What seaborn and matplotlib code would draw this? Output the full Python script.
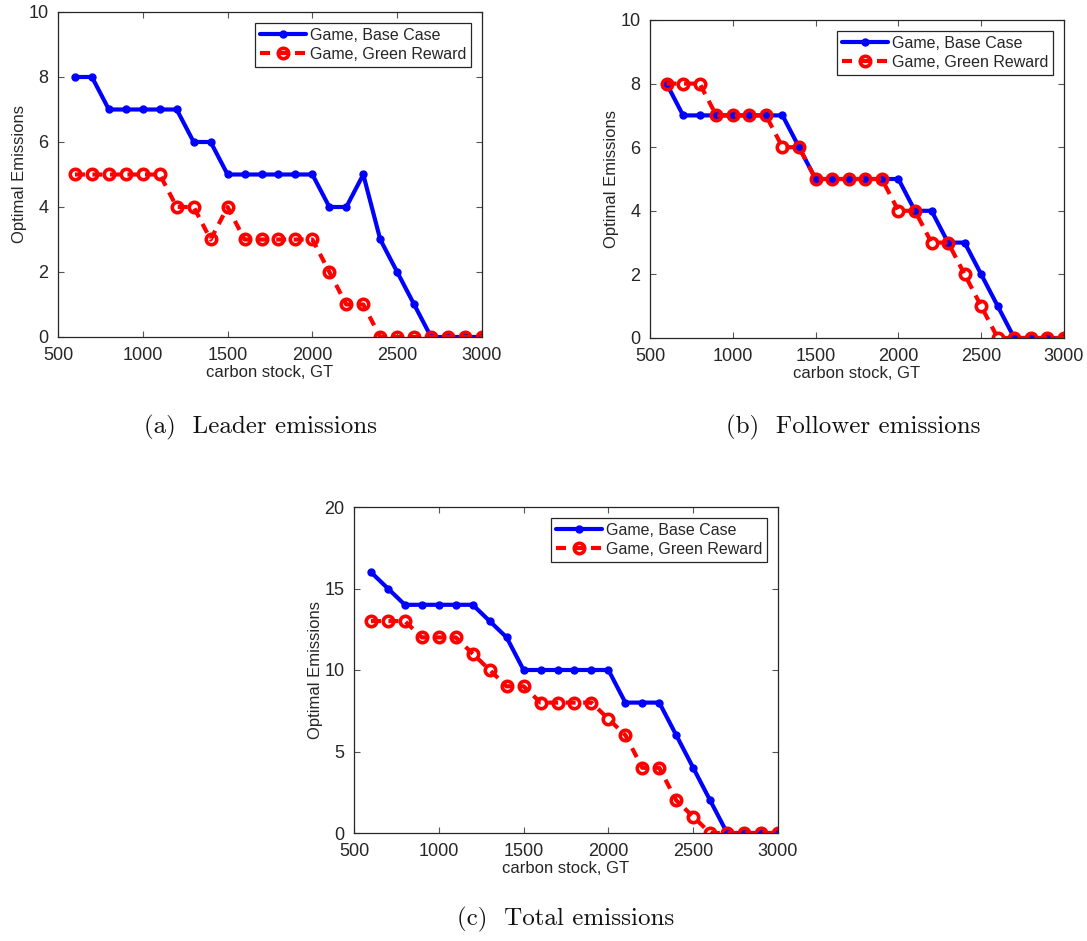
import numpy as np
import pandas as pd
import matplotlib
matplotlib.use("Agg")
import matplotlib.pyplot as plt
import seaborn as sns

# Carbon stock grid (GT)
carbon_stock = [600, 700, 800, 900, 1000, 1100, 1200, 1300, 1400, 1500, 1600, 1700,
                1800, 1900, 2000, 2100, 2200, 2300, 2400, 2500, 2600, 2700, 2800, 2900, 3000]

# Leader optimal emissions
leader_base = [8, 8, 7, 7, 7, 7, 7, 6, 6, 5, 5, 5, 5, 5, 5, 4, 4, 5, 3, 2, 1, 0, 0, 0, 0]
leader_green = [5, 5, 5, 5, 5, 5, 4, 4, 3, 4, 3, 3, 3, 3, 3, 2, 1, 1, 0, 0, 0, 0, 0, 0, 0]

# Follower optimal emissions
follower_base = [8, 7, 7, 7, 7, 7, 7, 7, 6, 5, 5, 5, 5, 5, 5, 4, 4, 3, 3, 2, 1, 0, 0, 0, 0]
follower_green = [8, 8, 8, 7, 7, 7, 7, 6, 6, 5, 5, 5, 5, 5, 4, 4, 3, 3, 2, 1, 0, 0, 0, 0, 0]

# Total optimal emissions
total_base = [16, 15, 14, 14, 14, 14, 14, 13, 12, 10, 10, 10, 10, 10, 10, 8, 8, 8, 6, 4, 2, 0, 0, 0, 0]
total_green = [13, 13, 13, 12, 12, 12, 11, 10, 9, 9, 8, 8, 8, 8, 7, 6, 4, 4, 2, 1, 0, 0, 0, 0, 0]

series_names = ["Game, Base Case", "Game, Green Reward"]
captions = ["(a)  Leader emissions", "(b)  Follower emissions", "(c)  Total emissions"]
x_ticks = [500, 1000, 1500, 2000, 2500, 3000]

sns.set_style("white")
plt.rcParams["font.family"] = ["Liberation Sans", "DejaVu Sans"]

W, H = 1087, 941
fig = plt.figure(figsize=(W / 100, H / 100), dpi=100)


def px_axes(left, top, right, bottom):
    return fig.add_axes([left / W, 1 - bottom / H, (right - left) / W, (bottom - top) / H])


def draw_panel(ax, base, green, ymax, ystep):
    df = pd.DataFrame({"stock": carbon_stock, "base": base, "green": green})
    sns.lineplot(data=df, x="stock", y="base", ax=ax, color="#0000ff", linewidth=3.0,
                 marker="o", markersize=5, markerfacecolor="#0000ff",
                 markeredgecolor="#0000ff", markeredgewidth=1.0, label=series_names[0])
    sns.lineplot(data=df, x="stock", y="green", ax=ax, color="#ff0000", linewidth=3.0,
                 linestyle=(0, (2.4, 1.8)), marker="o", markersize=7.5,
                 markerfacecolor="none", markeredgecolor="#ff0000",
                 markeredgewidth=2.6, label=series_names[1])
    ax.set_xlim(500, 3000)
    ax.set_ylim(0, ymax)
    ax.set_xticks(x_ticks)
    ax.set_yticks(np.arange(0, ymax + 0.1, ystep))
    ax.tick_params(axis="x", pad=7)
    ax.tick_params(axis="y", pad=7)
    ax.tick_params(direction="in", length=4, width=0.8, color="#555555",
                   labelsize=13, labelcolor="#262626", top=True, right=True,
                   bottom=True, left=True)
    for s in ax.spines.values():
        s.set_color("#262626")
        s.set_linewidth(0.9)
        s.set_visible(True)
    ax.set_xlabel("carbon stock, GT", fontsize=12, color="#262626", labelpad=1)
    ax.set_ylabel("Optimal Emissions", fontsize=12, color="#262626", labelpad=1)
    leg = ax.legend(loc="upper right", fontsize=11.5, frameon=True, fancybox=False,
                    edgecolor="#262626", framealpha=1, handlelength=2.9,
                    handletextpad=0.2, borderpad=0.3, labelspacing=0.25,
                    borderaxespad=0.7)
    leg.get_frame().set_linewidth(0.9)


ax_a = px_axes(58, 12, 482, 337)
draw_panel(ax_a, leader_base, leader_green, 10, 2)
ax_b = px_axes(650, 20, 1064, 338)
draw_panel(ax_b, follower_base, follower_green, 10, 2)
ax_c = px_axes(354, 507, 778, 833)
draw_panel(ax_c, total_base, total_green, 20, 5)

cap_font = dict(family="cmr10", fontsize=18, ha="center", va="center", color="#111111")
fig.text(261 / W, 1 - 427 / H, captions[0], **cap_font)
fig.text(853 / W, 1 - 427 / H, captions[1], **cap_font)
fig.text(566 / W, 1 - 919 / H, captions[2], **cap_font)

fig.savefig("out.png", dpi=100)
